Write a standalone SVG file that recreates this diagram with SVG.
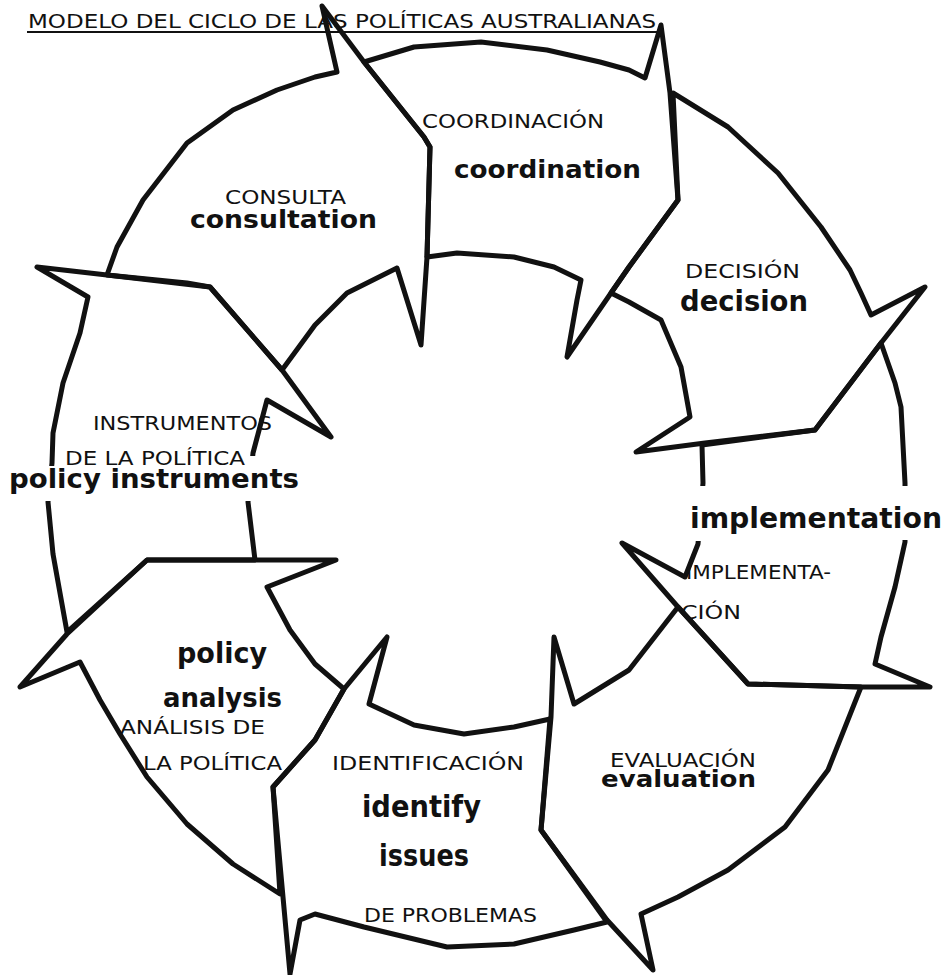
<svg xmlns="http://www.w3.org/2000/svg" width="943" height="975" viewBox="0 0 943 975">
<style>
.seg{fill:none;stroke:#111;stroke-width:5;stroke-linejoin:round;stroke-linecap:round}
.es{font-family:"DejaVu Sans","Noto Sans",sans-serif;font-size:20px;fill:#111}
.en{font-family:"DejaVu Sans Condensed","DejaVu Sans",sans-serif;font-weight:bold;fill:#111}
.gap{fill:#fff}
</style>
<rect width="943" height="975" fill="#fff"/>
<g id="title">
<text class="es" x="28" y="28" font-size="21" textLength="628" lengthAdjust="spacingAndGlyphs">MODELO DEL CICLO DE LAS POLÍTICAS AUSTRALIANAS</text>
<line x1="27" y1="32" x2="658" y2="32" stroke="#111" stroke-width="1.8"/>
</g>
<g id="consulta">
<path class="seg" d="M107,275 L117,247 L143,200 L187,143 L233,110 L277,90 L315,77 L337,72 L322,6 L364,62 L424,137 L430,147 L427,257 L421,345 L397,268 L347,293 L315,325 L282,370 L210,287 Z"/>
<text class="es" x="225" y="204" textLength="121" lengthAdjust="spacingAndGlyphs">CONSULTA</text>
<text class="en" x="190" y="228" font-size="24" textLength="187" lengthAdjust="spacingAndGlyphs">consultation</text>
</g>
<g id="coordination">
<path class="seg" d="M364,62 L414,47 L481,42 L547,50 L600,62 L629,70 L645,78 L661,25 L670,93 L678,200 L629,267 L611,293 L567,357 L577,300 L581,280 L554,267 L514,257 L457,253 L427,257 L430,147 L424,137 Z"/>
<text class="es" x="422" y="128" textLength="182" lengthAdjust="spacingAndGlyphs">COORDINACIÓN</text>
<text class="en" x="454" y="178" font-size="24" textLength="187" lengthAdjust="spacingAndGlyphs">coordination</text>
</g>
<g id="decision">
<path class="seg" d="M673,93 L728,127 L778,173 L821,227 L850,270 L861,293 L871,315 L925,287 L881,343 L815,430 L705,443 L636,452 L690,417 L681,367 L661,320 L629,302 L611,293 L629,267 L678,200 Z"/>
<text class="es" x="685" y="278" textLength="115" lengthAdjust="spacingAndGlyphs">DECISIÓN</text>
<text class="en" x="680" y="311" font-size="28" textLength="128" lengthAdjust="spacingAndGlyphs">decision</text>
</g>
<g id="implementation">
<path class="seg" d="M881,343 L895,383 L901,407 L905,483 L905,542 L895,587 L881,637 L875,664 L930,687 L861,687 L748,684 L678,607 L622,543 L685,577 L698,544 L703,483 L702,445 L815,430 Z"/>
<rect class="gap" x="690" y="486" width="22" height="55"/>
<rect class="gap" x="894" y="486" width="22" height="54"/>
<text class="en" x="690" y="528" font-size="28" textLength="252" lengthAdjust="spacingAndGlyphs">implementation</text>
<text class="es" x="686" y="579" textLength="145" lengthAdjust="spacingAndGlyphs">IMPLEMENTA-</text>
<text class="es" x="681" y="619" textLength="60" lengthAdjust="spacingAndGlyphs">CIÓN</text>
</g>
<g id="evaluation">
<path class="seg" d="M861,687 L828,770 L785,827 L728,870 L678,897 L641,914 L653,970 L607,920 L541,830 L551,717 L554,637 L574,704 L629,670 L678,607 L748,684 Z"/>
<text class="es" x="610" y="767" textLength="146" lengthAdjust="spacingAndGlyphs">EVALUACIÓN</text>
<text class="en" x="601" y="787" font-size="23" textLength="155" lengthAdjust="spacingAndGlyphs">evaluation</text>
</g>
<g id="identify-issues">
<path class="seg" d="M607,922 L574,930 L514,944 L447,947 L364,927 L315,914 L300,920 L290,974 L283,897 L273,787 L315,740 L344,689 L387,637 L369,704 L414,725 L464,734 L514,727 L550,719 L541,830 Z"/>
<text class="es" x="332" y="770" textLength="192" lengthAdjust="spacingAndGlyphs">IDENTIFICACIÓN</text>
<text class="en" x="362" y="817" font-size="30" textLength="119" lengthAdjust="spacingAndGlyphs">identify</text>
<text class="en" x="379" y="866" font-size="30" textLength="90" lengthAdjust="spacingAndGlyphs">issues</text>
<text class="es" x="364" y="922" textLength="173" lengthAdjust="spacingAndGlyphs">DE PROBLEMAS</text>
</g>
<g id="policy-analysis">
<path class="seg" d="M280,894 L233,864 L187,824 L147,777 L120,734 L100,700 L80,662 L20,687 L67,634 L147,560 L336,560 L267,587 L290,630 L315,664 L344,689 L315,740 L273,787 Z"/>
<text class="en" x="177" y="663" font-size="28" textLength="90" lengthAdjust="spacingAndGlyphs">policy</text>
<text class="en" x="163" y="707" font-size="27" textLength="119" lengthAdjust="spacingAndGlyphs">analysis</text>
<text class="es" x="120" y="734" textLength="145" lengthAdjust="spacingAndGlyphs">ANÁLISIS DE</text>
<text class="es" x="143" y="770" textLength="139" lengthAdjust="spacingAndGlyphs">LA POLÍTICA</text>
</g>
<g id="policy-instruments">
<path class="seg" d="M67,632 L53,554 L48,502 L52,463 L53,433 L63,383 L80,333 L88,297 L37,267 L107,275 L187,283 L210,287 L282,370 L331,437 L267,400 L253,453 L248,502 L255,560 L147,560 Z"/>
<rect class="gap" x="38" y="466" width="24" height="35"/>
<rect class="gap" x="240" y="456" width="24" height="45"/>
<text class="es" x="93" y="430" textLength="179" lengthAdjust="spacingAndGlyphs">INSTRUMENTOS</text>
<text class="es" x="65" y="465" textLength="180" lengthAdjust="spacingAndGlyphs">DE LA POLÍTICA</text>
<text class="en" x="9" y="488" font-size="26" textLength="290" lengthAdjust="spacingAndGlyphs">policy instruments</text>
</g>
</svg>
